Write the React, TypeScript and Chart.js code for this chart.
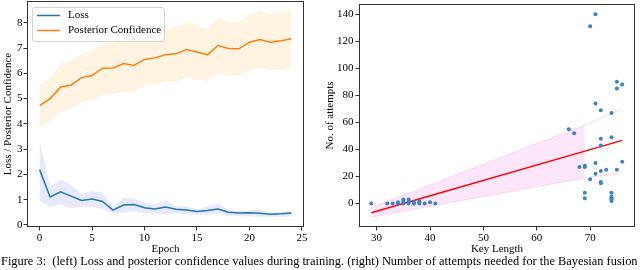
import React, { useEffect, useRef } from 'react';
import { Chart, registerables } from 'chart.js';

Chart.register(...registerables);

// ---------- Left chart data ----------
const epochs = [0, 1, 2, 3, 4, 5, 6, 7, 8, 9, 10, 11, 12, 13, 14, 15, 16, 17, 18, 19, 20, 21, 22, 23, 24];
const lossMean = [2.19, 1.11, 1.31, 1.14, 0.97, 1.03, 0.93, 0.59, 0.79, 0.81, 0.68, 0.63, 0.71, 0.62, 0.59, 0.53, 0.57, 0.63, 0.5, 0.47, 0.48, 0.46, 0.42, 0.44, 0.47];
const lossUpper = [3.37, 1.52, 1.82, 1.58, 1.24, 1.34, 1.28, 0.7, 1.09, 1.04, 0.88, 0.82, 0.98, 0.75, 0.73, 0.62, 0.72, 0.87, 0.58, 0.56, 0.57, 0.6, 0.48, 0.52, 0.57];
const lossLower = [0.99, 0.7, 0.81, 0.66, 0.73, 0.7, 0.64, 0.46, 0.48, 0.54, 0.45, 0.44, 0.43, 0.45, 0.41, 0.39, 0.39, 0.45, 0.36, 0.36, 0.35, 0.32, 0.33, 0.33, 0.33];
const confMean = [4.72, 4.99, 5.46, 5.53, 5.83, 5.91, 6.2, 6.21, 6.39, 6.31, 6.55, 6.61, 6.73, 6.77, 6.94, 6.84, 6.73, 7.1, 6.98, 6.97, 7.23, 7.34, 7.23, 7.29, 7.37];
const confUpper = [5.56, 5.82, 6.4, 6.47, 6.77, 6.87, 7.18, 7.2, 7.39, 7.31, 7.57, 7.63, 7.77, 7.83, 8.0, 7.9, 7.77, 8.17, 8.05, 8.0, 8.33, 8.46, 8.33, 8.43, 8.48];
const confLower = [3.86, 4.1, 4.49, 4.59, 4.87, 4.92, 5.13, 5.19, 5.25, 5.27, 5.52, 5.57, 5.66, 5.69, 5.83, 5.75, 5.7, 5.99, 5.92, 5.9, 6.11, 6.19, 6.13, 6.14, 6.24];
const leftSeriesNames = ['Loss', 'Posterior Confidence'];
const leftXTicks = [0, 5, 10, 15, 20, 25];
const leftYTicks = [0, 1, 2, 3, 4, 5, 6, 7, 8];

// ---------- Right chart data ----------
const keyLength = [29, 32, 33, 34, 34, 35, 35, 35, 36, 36, 36, 37, 37, 38, 38, 38, 39, 40, 41,
  66, 67, 68, 69, 69, 69, 69, 70, 70, 71, 71, 71, 71, 72, 72, 72, 72, 72, 72, 73,
  74, 74, 74, 74, 74, 74, 74, 75, 75, 75, 76, 76];
const attempts = [0, 0, 0, 0, 1, 0, 1.5, 3, 0, 1.5, 3, 0, 1, 0, 1, 2, 0, 1, 0,
  55, 52, 27, 27, 28, 8, 4, 131, 18, 140, 74, 30, 22, 69, 48, 43, 24, 16, 15, 25,
  67, 49, 8, 5, 4, 3, 2, 90, 85, 25, 88, 31];
const fitX = [29, 76];
const fitY = [-6.8, 46.7];
const bandX = [29, 69];
const bandUpper = [-3, 58];
const bandLower = [-10, 19];
const bandExtX = [69, 76];
const bandExtUpper = [58, 70];
const bandExtLower = [19, 23];
const rightXTicks = [30, 40, 50, 60, 70];
const rightYTicks = [0, 20, 40, 60, 80, 100, 120, 140];

const caption = 'Figure 3:  (left) Loss and posterior confidence values during training. (right) Number of attempts needed for the Bayesian fusion';

const FONT = "'Liberation Serif', 'Times New Roman', serif";

const pts = (xs: number[], ys: number[]) => xs.map((x, i) => ({ x, y: ys[i] }));

const framePlugin = {
  id: 'frame',
  afterDraw(chart: any) {
    const { ctx, chartArea } = chart;
    ctx.save();
    ctx.strokeStyle = '#333333';
    ctx.lineWidth = 1;
    ctx.strokeRect(Math.round(chartArea.left) + 0.5, Math.round(chartArea.top) + 0.5,
      Math.round(chartArea.right - chartArea.left) - 1, Math.round(chartArea.bottom - chartArea.top) - 1);
    ctx.restore();
  },
};

const leftLegendPlugin = {
  id: 'leftLegend',
  afterDraw(chart: any) {
    const { ctx } = chart;
    ctx.save();
    ctx.beginPath();
    (ctx as any).roundRect(32.5, 7.5, 132, 34, 2.5);
    ctx.fillStyle = 'rgba(255,255,255,0.8)';
    ctx.fill();
    ctx.strokeStyle = '#d4d4d4';
    ctx.lineWidth = 1;
    ctx.stroke();
    const colors = ['#1f77b4', '#ff7f0e'];
    const ys = [15.5, 30.5];
    leftSeriesNames.forEach((name, i) => {
      ctx.beginPath();
      ctx.strokeStyle = colors[i];
      ctx.lineWidth = 1.5;
      ctx.moveTo(37, ys[i]);
      ctx.lineTo(60, ys[i]);
      ctx.stroke();
      ctx.fillStyle = '#000';
      ctx.font = `11px ${FONT}`;
      ctx.textBaseline = 'middle';
      ctx.textAlign = 'left';
      ctx.fillText(name, 68, ys[i]);
    });
    ctx.restore();
  },
};

function axisFit(size: number, vertical: boolean) {
  return (s: any) => {
    if (vertical) s.width = size; else s.height = size;
    s.paddingTop = 0; s.paddingBottom = 0; s.paddingLeft = 0; s.paddingRight = 0;
  };
}

const tickFont = { family: FONT, size: 11 };
const gridTicks = { display: true, drawOnChartArea: false, drawTicks: true, tickLength: 3.5, color: '#000', lineWidth: 0.8 };

function LeftChart() {
  const ref = useRef<HTMLCanvasElement>(null);
  useEffect(() => {
    const chart = new Chart(ref.current!, {
      type: 'line',
      data: {
        datasets: [
          { label: leftSeriesNames[0], data: pts(epochs, lossMean), borderColor: '#1f77b4', borderWidth: 1.5, pointRadius: 0, fill: false, order: 0, tension: 0 },
          { label: leftSeriesNames[1], data: pts(epochs, confMean), borderColor: '#ff7f0e', borderWidth: 1.5, pointRadius: 0, fill: false, order: 0, tension: 0 },
          { label: 'lossUp', data: pts(epochs, lossUpper), borderWidth: 0, borderColor: 'rgba(0,0,0,0)', backgroundColor: 'rgba(120,120,245,0.16)', pointRadius: 0, fill: '+1', order: 2, tension: 0 },
          { label: 'lossLo', data: pts(epochs, lossLower), borderWidth: 0, borderColor: 'rgba(0,0,0,0)', pointRadius: 0, fill: false, order: 2, tension: 0 },
          { label: 'confUp', data: pts(epochs, confUpper), borderWidth: 0, borderColor: 'rgba(0,0,0,0)', backgroundColor: 'rgba(255,190,90,0.18)', pointRadius: 0, fill: '+1', order: 2, tension: 0 },
          { label: 'confLo', data: pts(epochs, confLower), borderWidth: 0, borderColor: 'rgba(0,0,0,0)', pointRadius: 0, fill: false, order: 2, tension: 0 },
        ],
      },
      options: {
        animation: false,
        responsive: false,
        devicePixelRatio: 1,
        layout: { padding: { left: 0, top: 1, right: 16, bottom: 0 } },
        plugins: { legend: { display: false }, tooltip: { enabled: false } },
        scales: {
          x: {
            type: 'linear', min: -1.2, max: 25.2,
            afterFit: axisFit(29, false),
            afterBuildTicks: (s: any) => { s.ticks = leftXTicks.map((v) => ({ value: v })); },
            ticks: { font: tickFont, color: '#000', padding: 1, maxRotation: 0 },
            grid: gridTicks, border: { display: false },
            title: { display: true, text: 'Epoch', font: { family: FONT, size: 11 }, color: '#000', padding: { top: 0, bottom: 0 } },
          },
          y: {
            type: 'linear', min: -0.08, max: 8.86,
            afterFit: axisFit(27, true),
            afterBuildTicks: (s: any) => { s.ticks = leftYTicks.map((v) => ({ value: v })); },
            ticks: { font: tickFont, color: '#000', padding: 1 },
            grid: gridTicks, border: { display: false },
            title: { display: true, text: 'Loss / Posterior Confidence', font: { family: FONT, size: 11 }, color: '#000', padding: { top: 2, bottom: 0 } },
          },
        },
      },
      plugins: [framePlugin, leftLegendPlugin],
    } as any);
    return () => chart.destroy();
  }, []);
  return <canvas ref={ref} width={320} height={256} style={{ position: 'absolute', left: 0, top: 0, width: 320, height: 256 }} />;
}

function RightChart() {
  const ref = useRef<HTMLCanvasElement>(null);
  useEffect(() => {
    const chart = new Chart(ref.current!, {
      type: 'line',
      data: {
        datasets: [
          { label: 'points', data: pts(keyLength, attempts), showLine: false, pointRadius: 2, pointBorderWidth: 0, pointBackgroundColor: '#3b84c4', borderColor: '#3b84c4', order: 0 },
          { label: 'fit', data: pts(fitX, fitY), borderColor: '#ff0000', borderWidth: 1.5, pointRadius: 0, fill: false, order: 1, tension: 0 },
          { label: 'bandUp', data: pts(bandX, bandUpper), borderColor: 'rgba(245,150,235,0.3)', borderWidth: 1, backgroundColor: 'rgba(250,170,240,0.3)', pointRadius: 0, fill: '+1', order: 3, tension: 0 },
          { label: 'bandLo', data: pts(bandX, bandLower), borderColor: 'rgba(245,150,235,0.3)', borderWidth: 1, pointRadius: 0, fill: false, order: 3, tension: 0 },
          { label: 'bandExtUp', data: pts(bandExtX, bandExtUpper), borderColor: 'rgba(245,150,235,0.4)', borderWidth: 1, pointRadius: 0, fill: false, order: 3, tension: 0 },
          { label: 'bandExtLo', data: pts(bandExtX, bandExtLower), borderColor: 'rgba(245,150,235,0.4)', borderWidth: 1, pointRadius: 0, fill: false, order: 3, tension: 0 },
        ],
      },
      options: {
        animation: false,
        responsive: false,
        devicePixelRatio: 1,
        layout: { padding: { left: 0, top: 1, right: 5, bottom: 0 } },
        plugins: { legend: { display: false }, tooltip: { enabled: false } },
        scales: {
          x: {
            type: 'linear', min: 26.7, max: 78.4,
            afterFit: axisFit(29, false),
            afterBuildTicks: (s: any) => { s.ticks = rightXTicks.map((v) => ({ value: v })); },
            ticks: { font: tickFont, color: '#000', padding: 1, maxRotation: 0 },
            grid: gridTicks, border: { display: false },
            title: { display: true, text: 'Key Length', font: { family: FONT, size: 11 }, color: '#000', padding: { top: 0, bottom: 0 } },
          },
          y: {
            type: 'linear', min: -17.3, max: 147.5,
            afterFit: axisFit(39, true),
            afterBuildTicks: (s: any) => { s.ticks = rightYTicks.map((v) => ({ value: v })); },
            ticks: { font: tickFont, color: '#000', padding: 2 },
            grid: gridTicks, border: { display: false },
            title: { display: true, text: 'No. of attempts', font: { family: FONT, size: 11 }, color: '#000', padding: { top: 3.5, bottom: 0 } },
          },
        },
      },
      plugins: [framePlugin],
    } as any);
    return () => chart.destroy();
  }, []);
  return <canvas ref={ref} width={320} height={256} style={{ position: 'absolute', left: 320, top: 0, width: 320, height: 256 }} />;
}

export default function App() {
  useEffect(() => {
    document.body.style.margin = '0';
  }, []);
  return (
    <div style={{ position: 'fixed', left: 0, top: 0, width: 640, height: 270, background: '#fff', overflow: 'hidden' }}>
      <LeftChart />
      <RightChart />
      <div style={{ position: 'absolute', left: 1, top: 254, whiteSpace: 'pre', fontFamily: FONT, fontSize: 12.4, lineHeight: '14px', color: '#000' }}>{caption}</div>
    </div>
  );
}
